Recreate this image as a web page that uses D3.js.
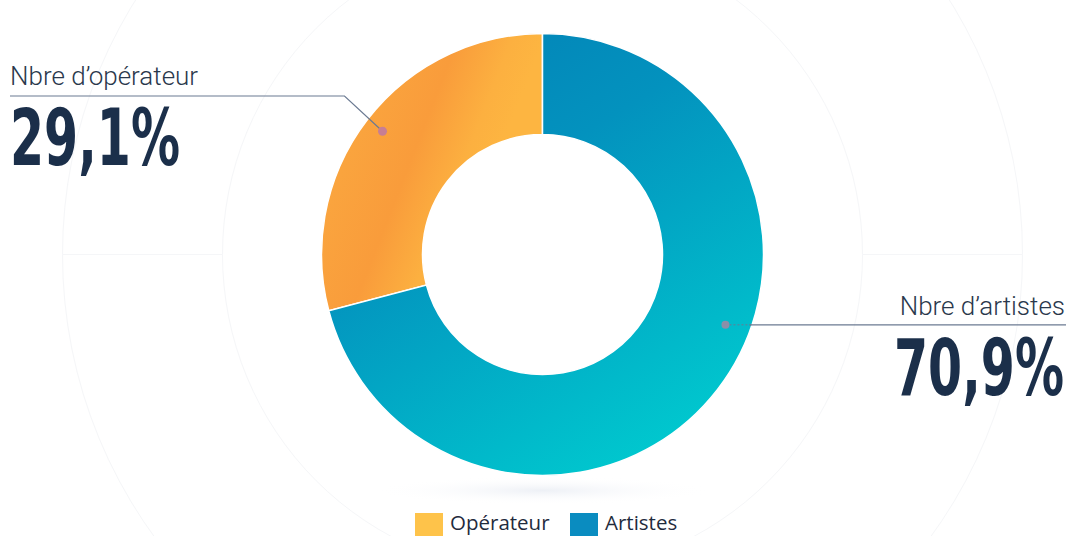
<!DOCTYPE html>
<html><head><meta charset="utf-8">
<script src="https://cdn.jsdelivr.net/npm/d3@7"></script>
<style>
html,body{margin:0;padding:0;background:#fff;overflow:hidden;}
svg{display:block;}
</style></head>
<body>
<svg id="chart" width="1070" height="536"></svg>
<script>
const categories = ["Opérateur", "Artistes"];
const values = [29.1, 70.9];
const labelTitles = ["Nbre d\u2019opérateur", "Nbre d\u2019artistes"];
const labelValues = ["29,1%", "70,9%"];

const W = 1070, H = 536;
const cx = 542.5, cy = 254.5, rOuter = 221, rInner = 120;
const svg = d3.select("#chart");
const defs = svg.append("defs");

// gradients (coordinates relative to donut centre)
const gBlue = defs.append("linearGradient").attr("id","gBlue").attr("gradientUnits","userSpaceOnUse")
  .attr("x1", -90).attr("y1", -215).attr("x2", 160).attr("y2", 205);
gBlue.append("stop").attr("offset","0%").attr("stop-color","#0385b8");
gBlue.append("stop").attr("offset","30%").attr("stop-color","#0392be");
gBlue.append("stop").attr("offset","100%").attr("stop-color","#00cdd0");
const gOrange = defs.append("linearGradient").attr("id","gOrange").attr("gradientUnits","userSpaceOnUse")
  .attr("x1", -244).attr("y1", -138).attr("x2", -57).attr("y2", -65);
gOrange.append("stop").attr("offset","0%").attr("stop-color","#fba83e");
gOrange.append("stop").attr("offset","30%").attr("stop-color","#faa43e");
gOrange.append("stop").attr("offset","60%").attr("stop-color","#f99c3b");
gOrange.append("stop").attr("offset","85%").attr("stop-color","#fcb040");
gOrange.append("stop").attr("offset","100%").attr("stop-color","#fdb541");
const sh = defs.append("radialGradient").attr("id","gShadow");
sh.append("stop").attr("offset","0%").attr("stop-color","#e6eaf2").attr("stop-opacity",0.7);
sh.append("stop").attr("offset","100%").attr("stop-color","#ffffff").attr("stop-opacity",0);

// decorative faint background
const bg = svg.append("g").attr("fill","none").attr("stroke","#f5f6f8").attr("stroke-width",1);
[320, 480].forEach(r => bg.append("circle").attr("cx",cx).attr("cy",cy).attr("r",r));
bg.append("line").attr("x1",cx-480).attr("x2",cx-320).attr("y1",cy).attr("y2",cy);
bg.append("line").attr("x1",cx+320).attr("x2",cx+480).attr("y1",cy).attr("y2",cy);
svg.append("ellipse").attr("cx",cx).attr("cy",cy+236).attr("rx",170).attr("ry",14).attr("fill","url(#gShadow)");

const fills = ["url(#gOrange)", "url(#gBlue)"];
const legendColors = ["#fec34a", "#0a8cc0"];

const total = d3.sum(values);
const pie = d3.pie().sort(null).value(d => d)
  .startAngle(-2 * Math.PI * values[0] / total)
  .endAngle(2 * Math.PI - 2 * Math.PI * values[0] / total);
const arcs = pie(values);
const arc = d3.arc().innerRadius(rInner).outerRadius(rOuter);

const g = svg.append("g").attr("transform", `translate(${cx},${cy})`);
g.selectAll("path.slice").data(arcs).join("path")
  .attr("class","slice")
  .attr("d", arc)
  .attr("fill", (d,i) => fills[i])
  .attr("stroke","#ffffff").attr("stroke-width",1.5);

// annotations
const pt = (ang, r) => [cx + r * Math.sin(ang), cy - r * Math.cos(ang)];
const aOp = (arcs[0].startAngle + arcs[0].endAngle) / 2;
const pOp = pt(aOp, 202);
const ann = svg.append("g");
ann.append("polyline")
  .attr("points", `10,96 ${pOp[0]-38},96 ${pOp[0]},${pOp[1]}`)
  .attr("fill","none").attr("stroke","#6b7a92").attr("stroke-width",1.2);
ann.append("circle").attr("cx",pOp[0]).attr("cy",pOp[1]).attr("r",4.5).attr("fill","#c77e94");

const aAr = arcs[1].startAngle + (arcs[1].endAngle - arcs[1].startAngle) * 0.435;
const pAr = pt(aAr, 196);
ann.append("line").attr("x1",pAr[0]).attr("x2",pAr[0]+26).attr("y1",pAr[1]).attr("y2",pAr[1])
  .attr("stroke","#6b7a92").attr("stroke-width",1).attr("stroke-dasharray","2,2");
ann.append("line").attr("x1",pAr[0]+24).attr("x2",1066).attr("y1",pAr[1]).attr("y2",pAr[1])
  .attr("stroke","#6b7a92").attr("stroke-width",1.2);
ann.append("circle").attr("cx",pAr[0]).attr("cy",pAr[1]).attr("r",4).attr("fill","#8a8fa8");

const titleFont = "Roboto, 'Open Sans', sans-serif";
const bigFont = "'DejaVu Sans Condensed', 'DejaVu Sans', sans-serif";
ann.append("text").attr("x",10).attr("y",85).text(labelTitles[0])
  .attr("font-family",titleFont).attr("font-weight",300).attr("font-size",26).attr("fill","#2a384c");
ann.append("text").attr("x",1065).attr("y",315).attr("text-anchor","end").text(labelTitles[1])
  .attr("font-family",titleFont).attr("font-weight",300).attr("font-size",26).attr("fill","#2a384c");

// big condensed values: scale horizontally to the target width
function bigValue(txt, left, baseline, width) {
  const t = ann.append("text").attr("x",0).attr("y",0).text(txt)
    .attr("font-family",bigFont).attr("font-weight","bold").attr("font-size",78)
    .attr("fill","#1b2f4a");
  const natural = t.node().getComputedTextLength();
  t.attr("transform", `translate(${left},${baseline}) scale(${width / natural},1)`);
}
bigValue(labelValues[0], 10, 165, 170);
bigValue(labelValues[1], 894, 395, 170);

// legend
const legendX = [415, 570];
const lg = svg.append("g");
categories.forEach((c,i) => {
  lg.append("rect").attr("x",legendX[i]).attr("y",513).attr("width",28).attr("height",25).attr("fill",legendColors[i]);
  lg.append("text").attr("x",legendX[i]+35).attr("y",530).text(c)
    .attr("font-family","'Open Sans', sans-serif").attr("font-size",20.5).attr("fill","#1f2b3d");
});
</script>
</body></html>
